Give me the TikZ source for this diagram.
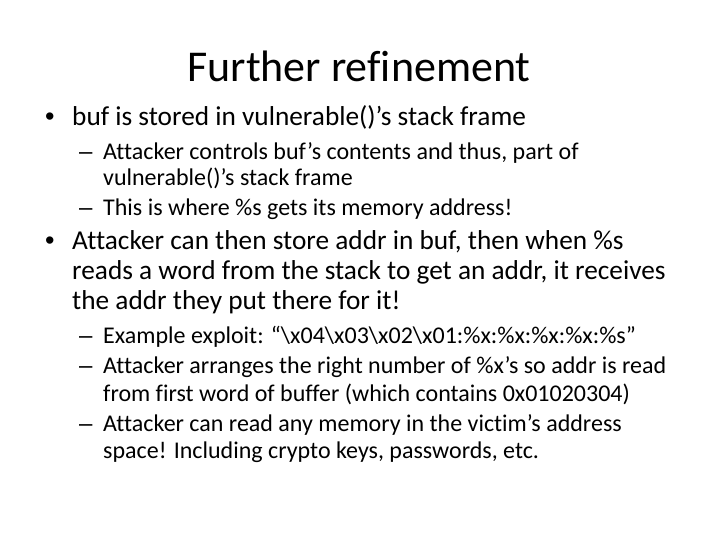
\documentclass[tikz,border=0pt]{standalone}
\usepackage{fontspec}
\setmainfont{Carlito}[Ligatures=NoCommon]
\newfontfamily\bulletfont{Liberation Sans}
\tikzset{
  slidetitle/.style={anchor=base, inner sep=0pt, font=\fontsize{44}{52}\selectfont},
  lvlone/.style={anchor=base west, inner sep=0pt, font=\fontsize{27.3}{32}\selectfont},
  lvltwo/.style={anchor=base west, inner sep=0pt, font=\fontsize{24}{28}\selectfont},
  bulone/.style={anchor=base west, inner sep=0pt, font=\bulletfont\fontsize{27}{32}\selectfont},
  bultwo/.style={anchor=base west, inner sep=0pt, font=\bulletfont\fontsize{24}{28}\selectfont},
}
\begin{document}
\begin{tikzpicture}[x=1pt, y=-1pt]
			%%%%% START %%%%%
			
			\useasboundingbox[fill=white] (0, 0) rectangle (720, 540);
			
			\node[slidetitle] (title) at (359, 82) {Further refinement};
			
			% first point
			\node[bulone] (bulA) at (45, 126) {•};
			\node[lvlone] (ptA) at (72, 126) {buf is stored in vulnerable()’s stack frame};
			\node[bultwo] (dashAa) at (79, 160) {–};
			\node[lvltwo] (ptAa) at (103, 160) {Attacker controls buf’s contents and thus, part of};
			\node[lvltwo] (ptAaa) at (103, 186) {vulnerable()’s stack frame};
			\node[bultwo] (dashAb) at (79, 215) {–};
			\node[lvltwo] (ptAb) at (103, 215) {This is where \%s gets its memory address!};
			
			% second point
			\node[bulone] (bulB) at (45, 249) {•};
			\node[lvlone] (ptB) at (72, 249) {Attacker can then store addr in buf, then when \%s};
			\node[lvlone] (ptBb) at (72, 279) {reads a word from the stack to get an addr, it receives};
			\node[lvlone] (ptBc) at (72, 309) {the addr they put there for it!};
			\node[bultwo] (dashBa) at (79, 343) {–};
			\node[lvltwo] (ptBa) at (103, 343) {Example exploit: “\textbackslash x04\textbackslash x03\textbackslash x02\textbackslash x01:\%x:\%x:\%x:\%x:\%s”};
			\node[bultwo] (dashBb) at (79, 373) {–};
			\node[lvltwo] (ptBbb) at (103, 373) {Attacker arranges the right number of \%x’s so addr is read};
			\node[lvltwo] (ptBbc) at (103, 401) {from first word of buffer (which contains 0x01020304)};
			\node[bultwo] (dashBc) at (79, 431) {–};
			\node[lvltwo] (ptBcb) at (103, 431) {Attacker can read any memory in the victim’s address};
			\node[lvltwo] (ptBcc) at (103, 458) {space! Including crypto keys, passwords, etc.};
			
			%%%%% END %%%%%
\end{tikzpicture}
\end{document}
